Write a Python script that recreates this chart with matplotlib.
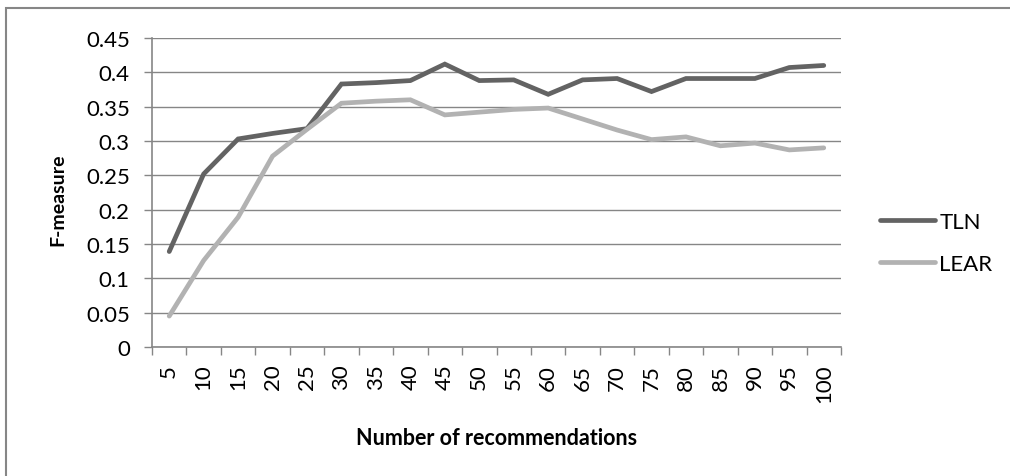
import numpy as np
import matplotlib
matplotlib.use("Agg")
import matplotlib.pyplot as plt
from matplotlib.patches import Rectangle

# number of recommendations on the x axis
n_recs = ["5", "10", "15", "20", "25", "30", "35", "40", "45", "50",
          "55", "60", "65", "70", "75", "80", "85", "90", "95", "100"]

# F-measure for each method
tln = [0.139, 0.252, 0.303, 0.311, 0.318, 0.383, 0.385, 0.388, 0.412, 0.388,
       0.389, 0.368, 0.389, 0.391, 0.372, 0.391, 0.391, 0.391, 0.407, 0.410]
lear = [0.045, 0.126, 0.189, 0.278, 0.317, 0.355, 0.358, 0.360, 0.338, 0.342,
        0.346, 0.348, 0.332, 0.316, 0.302, 0.306, 0.293, 0.297, 0.287, 0.290]

yticks = [0, 0.05, 0.1, 0.15, 0.2, 0.25, 0.3, 0.35, 0.4, 0.45]
ytick_labels = ["0", "0.05", "0.1", "0.15", "0.2", "0.25", "0.3", "0.35", "0.4", "0.45"]

plt.rcParams['font.family'] = ['Lato', 'DejaVu Sans']
GRID = '#868686'
FS = 16        # tick labels and legend

W, H = 1010, 477
fig = plt.figure(figsize=(W / 100, H / 100), dpi=100)
ax = fig.add_axes([152 / W, 1 - 348 / H, (841 - 152) / W, (348 - 39) / H])

x = np.arange(len(n_recs))
ax.plot(x, tln, color='#636363', lw=3.4, solid_capstyle='round',
        solid_joinstyle='miter', label='TLN', zorder=3)
ax.plot(x, lear, color='#b2b2b2', lw=3.4, solid_capstyle='round',
        solid_joinstyle='miter', label='LEAR', zorder=3)

ax.set_xlim(-0.5, len(n_recs) - 0.5)
ax.set_ylim(0, 0.45)
ax.set_yticks(yticks)
ax.set_yticklabels(ytick_labels, fontsize=FS)
ax.set_xticks(x)
ax.set_xticklabels(n_recs, rotation=90, fontsize=FS)
ax.set_xticks(np.arange(len(n_recs) + 1) - 0.5, minor=True)
ax.tick_params(axis='x', which='major', length=0, pad=12)
ax.tick_params(axis='x', which='minor', length=6, width=1, color=GRID, direction='out')
ax.tick_params(axis='y', length=6, width=1, color=GRID, direction='out', pad=10)

ax.yaxis.grid(True, color=GRID, lw=1)
ax.set_axisbelow(True)
for side in ['top', 'right']:
    ax.spines[side].set_visible(False)
for side in ['left', 'bottom']:
    ax.spines[side].set_color(GRID)
    ax.spines[side].set_linewidth(1.2)

ax.set_ylabel('F-measure', fontsize=14, fontweight='bold')
ax.yaxis.set_label_coords(-0.124, 0.48)
ax.set_xlabel('Number of recommendations', fontsize=15.5, fontweight='bold')
ax.xaxis.set_label_coords(0.5, -0.26)

fig.legend(loc='center left', bbox_to_anchor=(871 / W, 1 - 244 / H),
           frameon=False, fontsize=FS, handlelength=2.5, handletextpad=0.18,
           labelspacing=1.0, borderaxespad=0)

# chart frame (only left and top edges fall inside the image)
fig.patches.append(Rectangle((6 / W, -0.1), 1.2, 1 - 9 / H + 0.1,
                             transform=fig.transFigure, fill=False,
                             edgecolor=GRID, lw=1.5))

fig.savefig('out.png', dpi=100)
